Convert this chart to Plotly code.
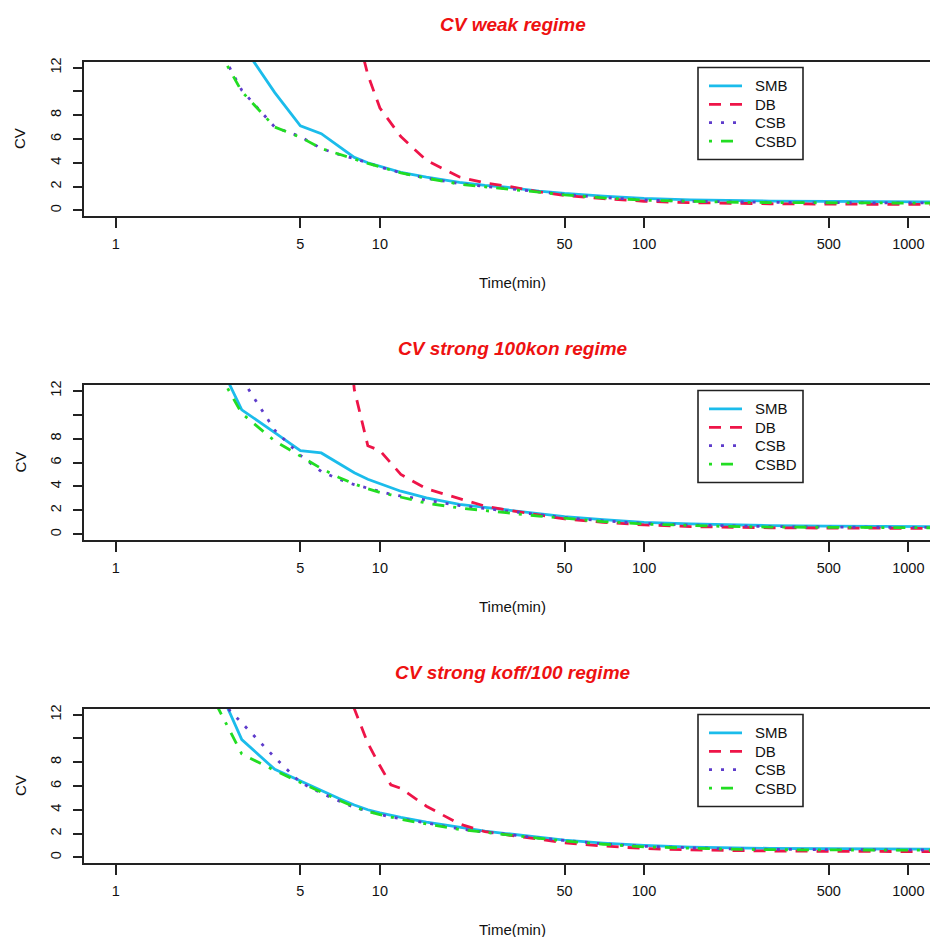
import plotly.graph_objects as go

# ---------------- data ----------------
T = [2, 3, 4, 5, 6, 7, 8, 9, 10, 11, 12, 15, 20, 25, 30, 40, 50, 70, 100,
     150, 200, 300, 500, 700, 1000, 1300]

series_names = ["SMB", "DB", "CSB", "CSBD"]
panel_titles = ["CV weak regime", "CV strong 100kon regime", "CV strong koff/100 regime"]

# panel 1 : weak regime
SMB1 = [22, 14.0, 9.9, 7.1, 6.45, 5.35, 4.45, 4.0, 3.7, 3.45, 3.2, 2.8, 2.35, 2.1, 1.95,
        1.62, 1.42, 1.2, 1.0, 0.88, 0.82, 0.78, 0.75, 0.72, 0.70, 0.70]
DB1 = [60, 45, 36, 30, 26, 21, 16, 11.4, 8.6, 7.3, 6.2, 4.2, 2.8, 2.3, 2.05,
       1.55, 1.25, 0.98, 0.76, 0.64, 0.59, 0.55, 0.52, 0.50, 0.49, 0.49]
CSB1 = [17.4, 10.1, 7.0, 6.2, 5.2, 4.7, 4.35, 3.95, 3.65, 3.4, 3.15, 2.7, 2.25, 2.0, 1.85,
        1.55, 1.33, 1.08, 0.87, 0.76, 0.71, 0.67, 0.64, 0.63, 0.62, 0.62]
CSBD1 = [17.0, 10.0, 7.0, 6.15, 5.2, 4.7, 4.3, 3.95, 3.65, 3.4, 3.15, 2.7, 2.2, 1.98, 1.82,
         1.52, 1.3, 1.05, 0.85, 0.74, 0.69, 0.65, 0.62, 0.61, 0.60, 0.60]

# panel 2 : strong 100kon regime
SMB2 = [18.5, 10.4, 8.5, 7.0, 6.8, 5.95, 5.15, 4.6, 4.25, 3.9, 3.6, 3.05, 2.5, 2.25, 2.05,
        1.7, 1.47, 1.22, 1.0, 0.86, 0.78, 0.72, 0.68, 0.66, 0.64, 0.63]
DB2 = [60, 45, 38, 33, 29, 25, 12.1, 7.4, 7.0, 6.0, 5.0, 3.8, 2.95, 2.35, 2.05,
       1.6, 1.28, 1.0, 0.78, 0.64, 0.58, 0.54, 0.52, 0.50, 0.49, 0.49]
CSB2 = [20, 13.0, 8.7, 6.6, 5.25, 4.6, 4.15, 3.85, 3.55, 3.35, 3.2, 2.85, 2.4, 2.15, 1.95,
        1.62, 1.4, 1.12, 0.9, 0.77, 0.70, 0.64, 0.60, 0.58, 0.57, 0.57]
CSBD2 = [17, 10.1, 7.8, 6.5, 5.5, 4.75, 4.2, 3.8, 3.5, 3.3, 3.1, 2.6, 2.2, 1.95, 1.8,
         1.52, 1.32, 1.06, 0.85, 0.72, 0.66, 0.60, 0.57, 0.55, 0.54, 0.54]

# panel 3 : strong koff/100 regime
SMB3 = [18.7, 9.9, 7.4, 6.4, 5.6, 4.95, 4.4, 4.0, 3.73, 3.52, 3.35, 2.95, 2.5, 2.2, 2.0,
        1.68, 1.45, 1.2, 1.0, 0.86, 0.80, 0.75, 0.72, 0.70, 0.69, 0.69]
DB3 = [60, 45, 38, 33, 29, 25, 12.5, 9.6, 7.7, 6.1, 5.8, 4.3, 2.8, 2.15, 1.9,
       1.5, 1.22, 0.95, 0.74, 0.62, 0.57, 0.53, 0.50, 0.49, 0.48, 0.48]
CSB3 = [15.4, 11.3, 8.4, 6.3, 5.4, 4.75, 4.2, 3.9, 3.6, 3.4, 3.25, 2.85, 2.4, 2.1, 1.95,
        1.62, 1.4, 1.13, 0.92, 0.78, 0.72, 0.67, 0.63, 0.62, 0.61, 0.61]
CSBD3 = [16.3, 8.7, 7.3, 6.3, 5.45, 4.8, 4.25, 3.85, 3.6, 3.4, 3.2, 2.8, 2.35, 2.1, 1.93,
         1.6, 1.37, 1.1, 0.88, 0.75, 0.69, 0.64, 0.61, 0.60, 0.59, 0.59]

x_tickvals = [1, 5, 10, 50, 100, 500, 1000]
x_ticktext = ["1", "5", "10", "50", "100", "500", "1000"]
y_tickvals = [0, 2, 4, 6, 8, 10, 12]
y_ticktext = ["0", "2", "4", "6", "8", "", "12"]

panel_data = [
    [SMB1, DB1, CSB1, CSBD1],
    [SMB2, DB2, CSB2, CSBD2],
    [SMB3, DB3, CSB3, CSBD3],
]

# ---------------- styles ----------------
colors = ["#1BBCEB", "#EE1448", "#5E3CCB", "#22DD22"]
dashes = ["solid", "12px,9px", "3px,9px", "3px,9px,12px,9px"]
LW = 2.8
FONT = "Liberation Sans, Arial, sans-serif"
AXC = "#222222"

W, H = 930, 937
def pxx(x):
    return x / W
def pyy(y):
    return 1 - y / H

# pixel geometry of each panel (top, bottom of plot box)
boxes = [(62, 216), (385, 540), (709, 863)]
LEFT = 84

fig = go.Figure()
shapes = []
annotations = []

for i, (top, bottom) in enumerate(boxes):
    k = "" if i == 0 else str(i + 1)
    for j, name in enumerate(series_names):
        fig.add_trace(go.Scatter(
            x=T, y=panel_data[i][j], mode="lines", name=name,
            line=dict(color=colors[j], width=LW, dash=dashes[j]),
            xaxis="x" + k, yaxis="y" + k, showlegend=False,
            hoverinfo="x+y+name"))

    fig.update_layout(**{
        "xaxis" + k: dict(
            type="log", range=[-0.12, 3.082], domain=[LEFT / W, 1],
            anchor="y" + k, tickvals=x_tickvals, ticktext=x_ticktext,
            ticks="outside", ticklen=10, tickwidth=1.5, tickcolor=AXC,
            showline=True, linecolor=AXC, linewidth=1.8, mirror=True,
            showgrid=False, zeroline=False, automargin=False,
            tickfont=dict(family=FONT, size=14.5, color="#111"),
            ticklabelstandoff=4),
        "yaxis" + k: dict(
            range=[-0.48, 12.48], domain=[pyy(bottom), pyy(top)],
            anchor="x" + k, tickvals=y_tickvals, ticktext=y_ticktext,
            ticks="outside", ticklen=9, tickwidth=1.5, tickcolor=AXC,
            showline=True, linecolor=AXC, linewidth=1.8, mirror=False,
            showgrid=False, zeroline=False, automargin=False, tickangle=-90,
            tickfont=dict(family=FONT, size=14.5, color="#111"),
            ticklabelstandoff=6),
    })

    # title
    annotations.append(dict(
        text="<b><i>" + panel_titles[i] + "</i></b>", x=pxx(513), y=pyy(top - 37),
        xref="paper", yref="paper", showarrow=False, xanchor="center", yanchor="middle",
        font=dict(family=FONT, size=19, color="#EE1111")))
    # axis titles
    annotations.append(dict(
        text="CV", x=pxx(20), y=pyy((top + bottom) / 2), textangle=-90,
        xref="paper", yref="paper", showarrow=False, xanchor="center", yanchor="middle",
        font=dict(family=FONT, size=15, color="#111")))
    annotations.append(dict(
        text="Time(min)", x=pxx(512), y=pyy(bottom + 66),
        xref="paper", yref="paper", showarrow=False, xanchor="center", yanchor="middle",
        font=dict(family=FONT, size=15, color="#111")))

    # legend box
    ltop = top + 5.5
    shapes.append(dict(type="rect", xref="paper", yref="paper",
                       x0=pxx(698), x1=pxx(803), y0=pyy(ltop), y1=pyy(ltop + 92),
                       line=dict(color=AXC, width=1.6), fillcolor="white", layer="above"))
    for j, name in enumerate(series_names):
        yy = ltop + 18.4 * (j + 1)
        shapes.append(dict(type="line", xref="paper", yref="paper",
                           x0=pxx(709), x1=pxx(742), y0=pyy(yy), y1=pyy(yy),
                           line=dict(color=colors[j], width=LW, dash=dashes[j]),
                           layer="above"))
        annotations.append(dict(
            text=name, x=pxx(753), y=pyy(yy), xref="paper", yref="paper",
            showarrow=False, xanchor="left", yanchor="middle",
            font=dict(family=FONT, size=15, color="#111")))

fig.update_layout(
    width=W, height=H, template="none",
    margin=dict(l=0, r=0, t=0, b=0),
    paper_bgcolor="white", plot_bgcolor="white",
    showlegend=False, shapes=shapes, annotations=annotations,
    font=dict(family=FONT, color="#111"))

fig.write_html("out.html")
